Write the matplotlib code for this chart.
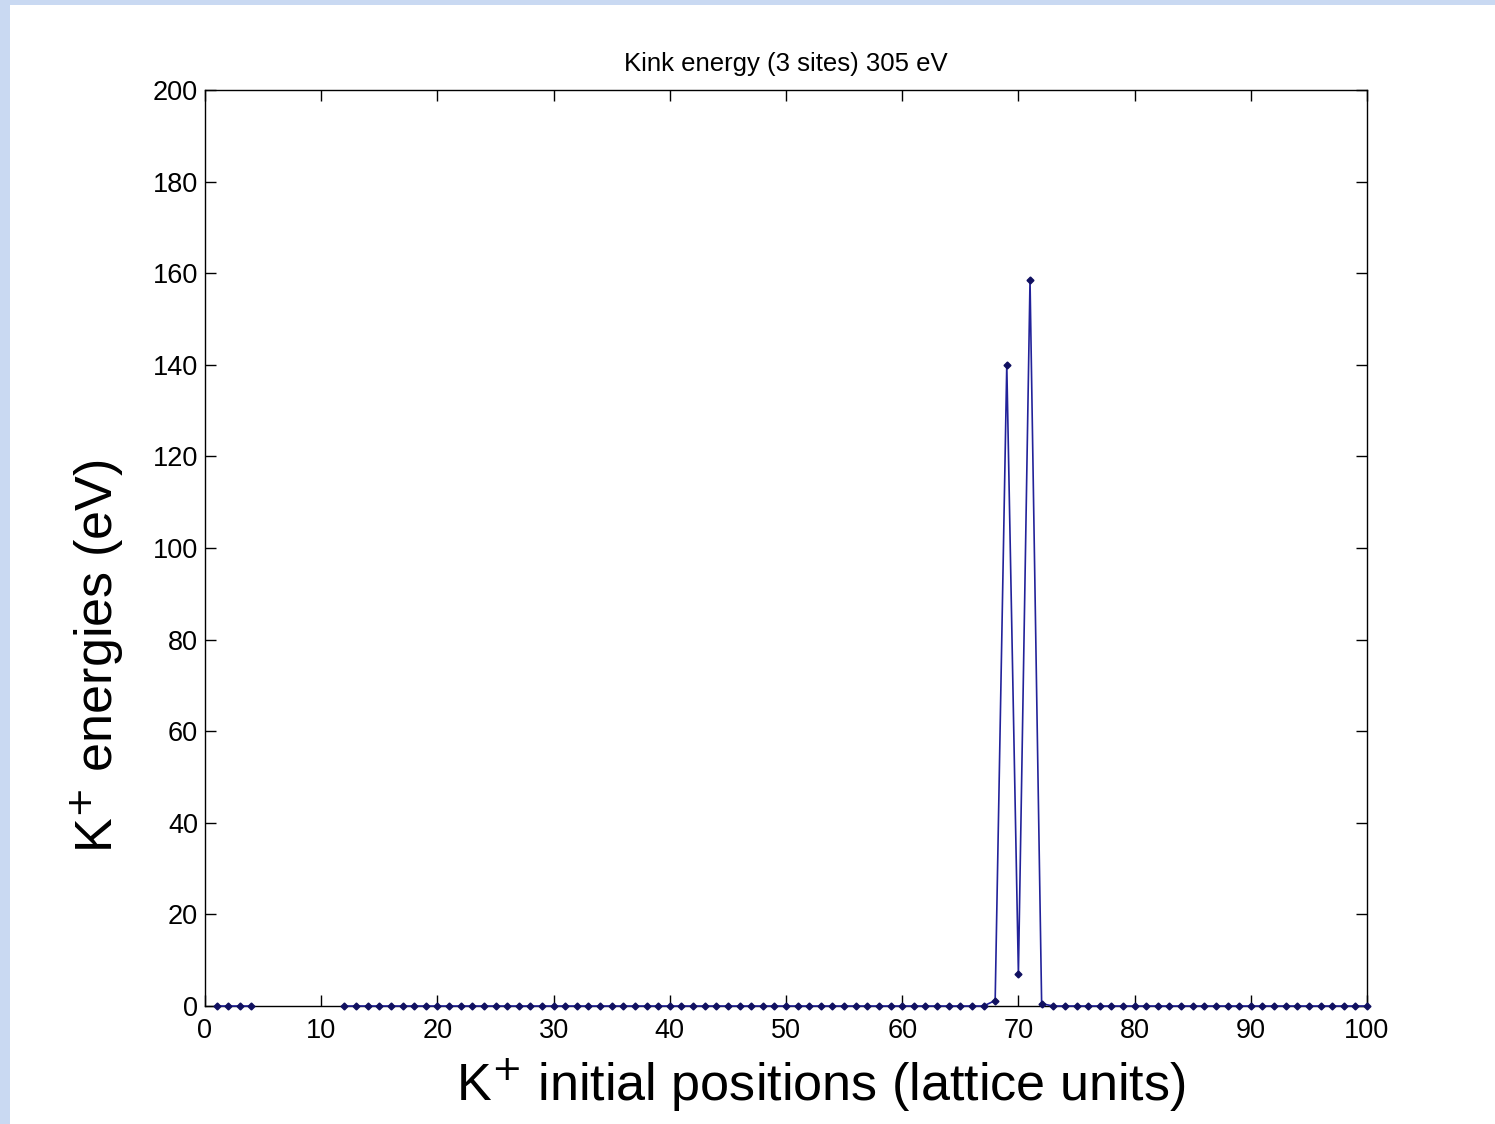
import numpy as np
import matplotlib
matplotlib.use("Agg")
import matplotlib.pyplot as plt
import matplotlib.patches as patches

plt.rcParams["font.family"] = ["Liberation Sans", "DejaVu Sans"]

# positions 1..100, 5-11 missing in the plot
positions = np.arange(1, 101)
energies = np.zeros(100)
energies[4:11] = np.nan
peak_pos = [68, 69, 70, 71, 72]
peak_val = [1.2, 140.0, 7.0, 158.5, 0.5]
for p, v in zip(peak_pos, peak_val):
    energies[p - 1] = v

x_ticks = list(range(0, 101, 10))
y_ticks = list(range(0, 201, 20))

fig = plt.figure(figsize=(14.95, 11.24), dpi=100)
fig.patch.set_facecolor("#c9d9f2")
# white page over the blue border (kept behind the axes)
fig.patches.append(
    patches.Rectangle((10 / 1495, 0), 1, (1124 - 5) / 1124,
                      transform=fig.transFigure, facecolor="white",
                      edgecolor="none", zorder=-10)
)

ax = fig.add_axes([205 / 1495, 1 - 1006 / 1124, (1367 - 205) / 1495, (1006 - 90) / 1124])
ax.plot(positions, energies, color="#22229a", linewidth=1.2, marker="D",
        markersize=3.5, markerfacecolor="#101060", markeredgecolor="#101060",
        clip_on=False, zorder=3)

ax.set_xlim(0, 100)
ax.set_ylim(0, 200)
ax.set_xticks(x_ticks)
ax.set_yticks(y_ticks)
ax.tick_params(direction="in", top=True, right=True, length=8, width=1,
               labelsize=19.5, pad=5)
ax.tick_params(axis="x", pad=9)
for s in ax.spines.values():
    s.set_linewidth(1)

ax.set_title("Kink energy (3 sites) 305 eV", fontsize=18.5, pad=14)
ax.set_xlabel("K$^{+}$ initial positions (lattice units)", fontsize=37.5)
ax.set_ylabel("K$^{+}$ energies (eV)", fontsize=37.5)
ax.xaxis.set_label_coords(0.530, -0.055)
ax.yaxis.set_label_coords(-0.069, 0.382)

fig.savefig("out.png", dpi=100, facecolor=fig.get_facecolor())
